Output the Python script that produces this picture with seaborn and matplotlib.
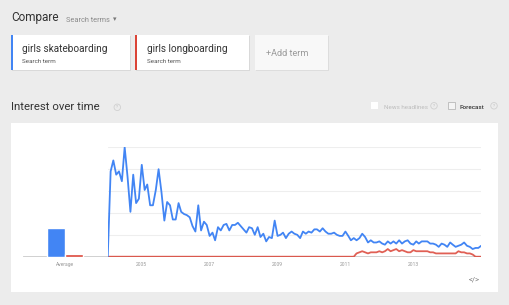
import numpy as np
import pandas as pd
import matplotlib
matplotlib.use("Agg")
import matplotlib.pyplot as plt
from matplotlib.patches import Rectangle
import seaborn as sns

# ---------------- data ----------------
terms = ["girls skateboarding", "girls longboarding"]
term_colors = ["#4285f4", "#db4437"]
start_month = "2004-01-01"

skate = [
    0, 78, 88, 75, 78, 69, 100, 73, 41, 75,
    49, 53, 84, 61, 66, 47, 47, 61, 80, 59,
    33, 50, 47, 34, 34, 49, 41, 39, 38, 36,
    28, 23, 47, 24, 32, 29, 19, 22, 15, 27,
    24, 29, 30, 24, 29, 29, 31, 28, 25, 22,
    27, 26, 20, 27, 18, 21, 14, 18, 17, 33,
    19, 20, 22, 17, 21, 23, 21, 20, 17, 23,
    21, 23, 22, 25, 25, 23, 26, 23, 21, 21,
    22, 20, 19, 19, 23, 19, 15, 17, 15, 17,
    21, 18, 13, 15, 13, 13, 14, 12, 11, 14,
    12, 14, 12, 15, 12, 14, 15, 12, 11, 14,
    12, 14, 14, 14, 12, 12, 11, 9, 12, 11,
    9, 13, 11, 9, 10, 11, 13, 10, 9, 7,
    8, 8, 10,
]
longb = [
    0, 0, 0, 0, 0, 0, 0, 0, 0, 0,
    0, 0, 0, 0, 0, 0, 0, 0, 0, 0,
    0, 0, 0, 0, 0, 0, 0, 0, 0, 0,
    0, 0, 0, 0, 0, 0, 0, 0, 0, 0,
    0, 0, 0, 0, 0, 0, 0, 0, 0, 0,
    0, 0, 0, 0, 0, 0, 0, 0, 0, 0,
    0, 0, 0, 0, 0, 0, 0, 0, 0, 0,
    0, 0, 0, 0, 0, 0, 0, 0, 0, 0,
    0, 0, 0, 0, 0, 0, 0, 0, 3, 4,
    5, 4, 3, 4, 4, 4, 5, 4, 5, 7,
    5, 6, 7, 5, 6, 5, 4, 4, 6, 5,
    5, 5, 5, 5, 4, 4, 3, 3, 3, 3,
    3, 3, 3, 3, 5, 4, 4, 3, 3, 2,
    0, 0, 0,
]
avg_values = [26, 2.5]
avg_label = "Average"
year_ticks = [2005, 2007, 2009, 2011, 2013]

# ---------------- setup ----------------
sns.set_style("white")
plt.rcParams["font.family"] = ["Roboto", "DejaVu Sans"]

W, H = 509, 305
fig = plt.figure(figsize=(W / 100, H / 100), dpi=100)
fig.patch.set_facecolor("#ececec")

def fx(x):
    return x / W

def fy(y):
    return 1 - y / H

def rect(x0, y0, x1, y1, fc, ec="none", lw=0, z=0):
    r = Rectangle((fx(x0), fy(y1)), fx(x1) - fx(x0), fy(y0) - fy(y1),
                  transform=fig.transFigure, facecolor=fc, edgecolor=ec,
                  linewidth=lw, zorder=z)
    fig.add_artist(r)

def txt(x, y, s, size, color, ha="left", va="baseline", **kw):
    fig.text(fx(x), fy(y), s, fontsize=size, color=color, ha=ha, va=va, **kw)

def qmark(x, y):
    fig.text(fx(x), fy(y), "?", fontsize=3.0, color="#bbbbbb", ha="center",
             va="center",
             bbox=dict(boxstyle="circle,pad=0.3", fc="none", ec="#d0d0d0", lw=0.6))

# header
txt(11, 20.7, "Compare", 8.5, "#333333")
txt(65.7, 21.5, "Search terms", 5.3, "#8a8a8a")
fig.text(fx(114.5), fy(19.5), "\u25BE", fontsize=5, color="#777777",
         ha="center", va="center", family="DejaVu Sans")

# cards
rect(11.5, 35.5, 130.5, 70.8, "#d9d9d9", z=0)
rect(11, 35, 130, 70, "white", z=1)
rect(11, 35, 12.5, 70, term_colors[0], z=2)
rect(135.5, 35.5, 249.5, 70.8, "#d9d9d9", z=0)
rect(135, 35, 249, 70, "white", z=1)
rect(135, 35, 136.5, 70, term_colors[1], z=2)
rect(255.5, 35.5, 328.5, 70.8, "#dddddd", z=0)
rect(255, 35, 328, 70, "#f8f8f8", z=1)
txt(22.3, 52.3, terms[0], 7.2, "#333333")
txt(22.3, 62.7, "Search term", 4.5, "#555555")
txt(147, 52.3, terms[1], 7.2, "#333333")
txt(147, 62.7, "Search term", 4.5, "#555555")
txt(266.5, 56.5, "+Add term", 6.6, "#9a9a9a")

# Interest over time row
txt(11, 110.5, "Interest over time", 8.2, "#333333")
qmark(117.3, 107.3)
rect(370.5, 102, 377.5, 109, "white", z=1)
txt(384, 108.6, "News headlines", 4.5, "#bdbdbd")
qmark(434, 105.8)
rect(448.3, 102, 455.3, 109, "#f4f4f4", ec="#b8b8b8", lw=0.6, z=1)
txt(459.5, 108.6, "Forecast", 4.5, "#333333", fontweight="medium")
qmark(494, 105.8)

# white panel
rect(11, 122.7, 497.7, 292, "white", z=0)
txt(474, 279.5, "</>", 5.5, "#777777", ha="center", va="center")

# ---------------- main chart ----------------
dates = pd.date_range(start_month, periods=len(skate), freq="MS")
df = pd.DataFrame({
    "date": list(dates) * 2,
    "value": skate + longb,
    "term": [terms[0]] * len(skate) + [terms[1]] * len(longb),
})

y0_px, y100_px = 256.7, 147.3
ax = fig.add_axes([fx(107.75), fy(y0_px), fx(481.2) - fx(107.75),
                   (y0_px - y100_px) / H])
ax.set_facecolor("none")
ax.set_zorder(3)
ax.axhline(0, color="#cccccc", lw=2.0, zorder=1)
sns.lineplot(data=df[df.term == terms[0]], x="date", y="value", color=term_colors[0],
             lw=1.3, ax=ax, legend=False, zorder=4)
sns.lineplot(data=df[df.term == terms[1]], x="date", y="value", color=term_colors[1],
             lw=1.3, ax=ax, legend=False, zorder=3, alpha=0.85)
ax.set_xlim(pd.Timestamp("2004-01-01"), pd.Timestamp("2015-01-01"))
ax.set_ylim(0, 100)
ax.set_yticks([20, 40, 60, 80, 100])
ax.set_yticklabels([])
ax.grid(axis="y", color="#eeeeee", lw=0.8)
ax.grid(axis="x", visible=False)
ax.set_xticks([pd.Timestamp(f"{y}-01-01") for y in year_ticks])
ax.set_xticklabels([str(y) for y in year_ticks])
ax.tick_params(axis="x", length=0, labelsize=3.6, labelcolor="#999999", pad=3.5)
ax.tick_params(axis="y", length=0)
ax.set_xlabel("")
ax.set_ylabel("")
for s in ax.spines.values():
    s.set_visible(False)

# ---------------- average bars ----------------
ax2 = fig.add_axes([fx(22.7), fy(y0_px), fx(108) - fx(22.7), (y0_px - y100_px) / H])
ax2.set_facecolor("none")
ax2.set_zorder(3)
avg_df = pd.DataFrame({"cat": [avg_label, avg_label], "value": avg_values, "term": terms})
ax2.axhline(0, color="#cccccc", lw=2.0, zorder=1)
sns.barplot(data=avg_df, x="cat", y="value", hue="term", palette=term_colors,
            width=0.42, ax=ax2, legend=False, saturation=1)
for p in ax2.patches:
    p.set_zorder(5)
ax2.set_xlim(-0.5, 0.5)
ax2.set_ylim(0, 100)
ax2.set_yticks([])
ax2.grid(False)
ax2.tick_params(axis="x", length=0, labelsize=3.6, labelcolor="#999999", pad=3.5)
ax2.set_xlabel("")
ax2.set_ylabel("")
for s in ax2.spines.values():
    s.set_visible(False)

fig.savefig("out.png", dpi=100, facecolor=fig.get_facecolor())
